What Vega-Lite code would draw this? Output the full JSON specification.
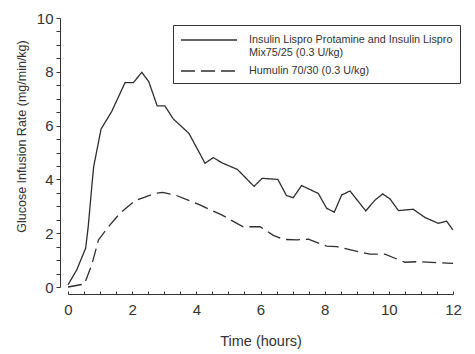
{
  "$schema": "https://vega.github.io/schema/vega-lite/v6.json",
  "width": 385,
  "height": 269,
  "autosize": {"type": "none"},
  "padding": {"left": 68, "top": 18, "right": 22, "bottom": 67},
  "background": "white",
  "config": {
    "view": {"stroke": null},
    "font": "Liberation Sans",
    "axis": {
      "domainColor": "#333",
      "tickColor": "#333",
      "labelColor": "#333",
      "titleColor": "#333",
      "labelFont": "Liberation Sans",
      "titleFont": "Liberation Sans",
      "labelFontSize": 15,
      "titleFontSize": 14.5,
      "titleFontWeight": "normal",
      "grid": false,
      "labelOverlap": false,
      "labelFlush": false
    }
  },
  "data": {
    "values": [
      {"t": 0, "v": 0.08, "s": "A"},
      {"t": 0.27, "v": 0.63, "s": "A"},
      {"t": 0.55, "v": 1.44, "s": "A"},
      {"t": 0.63, "v": 2.24, "s": "A"},
      {"t": 0.75, "v": 3.85, "s": "A"},
      {"t": 0.8, "v": 4.47, "s": "A"},
      {"t": 1.03, "v": 5.87, "s": "A"},
      {"t": 1.36, "v": 6.52, "s": "A"},
      {"t": 1.78, "v": 7.6, "s": "A"},
      {"t": 2.04, "v": 7.6, "s": "A"},
      {"t": 2.3, "v": 7.98, "s": "A"},
      {"t": 2.52, "v": 7.63, "s": "A"},
      {"t": 2.78, "v": 6.73, "s": "A"},
      {"t": 3.02, "v": 6.73, "s": "A"},
      {"t": 3.28, "v": 6.25, "s": "A"},
      {"t": 3.77, "v": 5.71, "s": "A"},
      {"t": 4.27, "v": 4.6, "s": "A"},
      {"t": 4.53, "v": 4.81, "s": "A"},
      {"t": 4.79, "v": 4.62, "s": "A"},
      {"t": 5.28, "v": 4.37, "s": "A"},
      {"t": 5.8, "v": 3.74, "s": "A"},
      {"t": 6.05, "v": 4.04, "s": "A"},
      {"t": 6.54, "v": 4.0, "s": "A"},
      {"t": 6.81, "v": 3.4, "s": "A"},
      {"t": 7.02, "v": 3.32, "s": "A"},
      {"t": 7.28, "v": 3.77, "s": "A"},
      {"t": 7.8, "v": 3.48, "s": "A"},
      {"t": 8.06, "v": 2.93, "s": "A"},
      {"t": 8.3, "v": 2.78, "s": "A"},
      {"t": 8.53, "v": 3.42, "s": "A"},
      {"t": 8.79, "v": 3.57, "s": "A"},
      {"t": 9.28, "v": 2.83, "s": "A"},
      {"t": 9.57, "v": 3.23, "s": "A"},
      {"t": 9.81, "v": 3.46, "s": "A"},
      {"t": 10.04, "v": 3.27, "s": "A"},
      {"t": 10.3, "v": 2.84, "s": "A"},
      {"t": 10.76, "v": 2.89, "s": "A"},
      {"t": 11.13, "v": 2.58, "s": "A"},
      {"t": 11.54, "v": 2.37, "s": "A"},
      {"t": 11.8, "v": 2.45, "s": "A"},
      {"t": 12.0, "v": 2.12, "s": "A"},
      {"t": 0, "v": 0.0, "s": "B"},
      {"t": 0.51, "v": 0.11, "s": "B"},
      {"t": 0.74, "v": 0.82, "s": "B"},
      {"t": 0.95, "v": 1.75, "s": "B"},
      {"t": 1.26, "v": 2.24, "s": "B"},
      {"t": 1.62, "v": 2.74, "s": "B"},
      {"t": 2.09, "v": 3.21, "s": "B"},
      {"t": 2.71, "v": 3.48, "s": "B"},
      {"t": 2.95, "v": 3.52, "s": "B"},
      {"t": 3.34, "v": 3.42, "s": "B"},
      {"t": 4.11, "v": 3.05, "s": "B"},
      {"t": 4.79, "v": 2.68, "s": "B"},
      {"t": 5.46, "v": 2.24, "s": "B"},
      {"t": 5.99, "v": 2.24, "s": "B"},
      {"t": 6.4, "v": 1.92, "s": "B"},
      {"t": 6.71, "v": 1.77, "s": "B"},
      {"t": 7.13, "v": 1.75, "s": "B"},
      {"t": 7.49, "v": 1.78, "s": "B"},
      {"t": 8.06, "v": 1.52, "s": "B"},
      {"t": 8.37, "v": 1.5, "s": "B"},
      {"t": 9.41, "v": 1.22, "s": "B"},
      {"t": 9.88, "v": 1.22, "s": "B"},
      {"t": 10.5, "v": 0.92, "s": "B"},
      {"t": 10.87, "v": 0.94, "s": "B"},
      {"t": 12.0, "v": 0.88, "s": "B"}
    ]
  },
  "mark": {"type": "line", "color": "#2e2e2e", "strokeWidth": 1.3, "clip": false},
  "encoding": {
    "x": {
      "field": "t",
      "type": "quantitative",
      "scale": {"domain": [0, 12], "nice": false, "zero": false},
      "axis": {
        "title": "Time (hours)",
        "values": [0,0.5,1,1.5,2,2.5,3,3.5,4,4.5,5,5.5,6,6.5,7,7.5,8,8.5,9,9.5,10,10.5,11,11.5,12],
        "labelExpr": "datum.value % 2 == 0 ? format(datum.value, 'd') : ''",
        "offset": 7,
        "tickSize": -3,
        "labelPadding": 11,
        "titlePadding": 17
      }
    },
    "y": {
      "field": "v",
      "type": "quantitative",
      "scale": {"domain": [0, 10], "nice": false},
      "axis": {
        "title": "Glucose Infusion Rate (mg/min/kg)",
        "values": [0,0.5,1,1.5,2,2.5,3,3.5,4,4.5,5,5.5,6,6.5,7,7.5,8,8.5,9,9.5,10],
        "labelExpr": "datum.value % 2 == 0 ? format(datum.value, 'd') : ''",
        "offset": 8,
        "tickSize": 4,
        "labelPadding": 3,
        "titleFontSize": 12.5,
        "titleY": 118,
        "titlePadding": 8
      }
    },
    "strokeDash": {
      "field": "s",
      "type": "nominal",
      "scale": {"domain": ["A", "B"], "range": [[1, 0], [14, 6]]},
      "legend": {
        "title": null,
        "orient": "none",
        "legendX": 105,
        "legendY": 7,
        "strokeColor": "#333",
        "padding": 7,
        "symbolType": "M-1,0H7",
        "symbolSize": 196,
        "symbolStrokeWidth": 1.3,
        "symbolStrokeColor": "#2e2e2e",
        "labelFont": "Liberation Sans",
        "labelFontSize": 10.8,
        "labelColor": "#333",
        "labelLimit": 320,
        "labelOffset": 53,
        "rowPadding": 5,
        "labelExpr": "datum.value == 'A' ? ['Insulin Lispro Protamine and Insulin Lispro', 'Mix75/25 (0.3 U/kg)'] : 'Humulin 70/30 (0.3 U/kg)'"
      }
    }
  }
}
